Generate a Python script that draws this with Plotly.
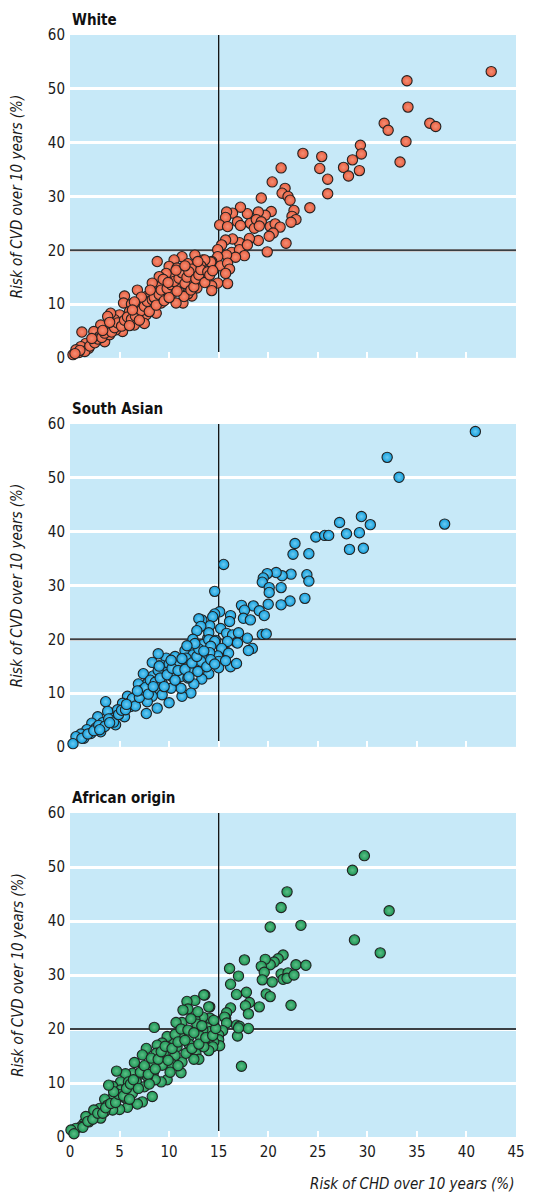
import plotly.graph_objects as go

# ---------------- DATA ----------------
panel_titles = ["White", "South Asian", "African origin"]
y_ticks = [0, 10, 20, 30, 40, 50, 60]
x_ticks = [0, 5, 10, 15, 20, 25, 30, 35, 40, 45]

white_pts = [
    (42.5,53.2),(34.0,51.5),(34.1,46.6),(31.7,43.6),(32.1,42.3),(36.3,43.6),(36.9,43.0),(33.9,40.2),
    (33.3,36.4),(29.3,39.5),(29.4,37.9),(28.5,36.8),(27.6,35.4),(29.2,34.8),(28.1,33.8),(23.5,38.0),
    (25.4,37.4),(25.2,35.2),(26.0,33.2),(26.0,30.5),(21.3,35.3),(20.4,32.7),(21.7,31.5),(21.4,30.6),
    (22.0,30.0),(22.2,29.3),(19.3,29.7),(24.2,27.9),(22.6,27.4),(22.4,26.3),(22.8,25.7),(22.3,25.2),
    (21.8,21.3),(19.9,19.7),
    (20.3,27.2),(19.7,26.5),(19.0,27.1),(17.9,26.8),(17.2,28.0),(16.4,26.9),(15.8,27.1),(15.7,26.1),
    (15.1,24.7),(15.9,24.4),(16.9,25.3),(17.2,24.6),(18.2,25.0),(18.6,24.1),(18.8,25.7),(19.3,25.3),
    (19.1,24.5),(20.2,24.4),(20.7,24.9),(21.2,24.3),(20.5,23.2),(20.1,22.6),(19.0,21.8),(18.1,22.2),
    (17.1,21.4),(16.4,22.1),(15.7,21.9),(15.3,21.0),(14.9,20.1),(16.3,19.6),(17.1,20.1),(17.9,21.0),
    (17.6,19.0),(16.7,18.7),(15.8,19.1),(14.9,18.8),(14.3,17.9),(13.4,18.2),(15.2,17.1),(15.9,17.6),
    (16.1,16.5),(15.7,15.7),(15.9,13.8),(14.9,13.9),(14.3,13.4),(14.3,12.5),
    (14.2,17.8),(13.6,18.2),(13.2,17.1),(12.6,19.1),(12.8,15.9),(12.4,14.0),(13.8,15.2),(13.4,14.5),
    (12.8,13.0),(12.3,11.5),(11.9,11.9),(11.4,10.2),(11.3,18.8),(10.5,18.2),(10.0,17.0),(10.8,16.7),
    (11.9,17.5),(12.3,16.5),(12.0,14.2),(11.3,14.5),(11.0,13.0),(11.5,11.4),(10.7,10.2),(10.3,12.0),
    (10.3,15.0),(9.7,15.7),(9.0,15.1),(8.8,17.9),(9.7,13.9),(9.2,13.3),(8.3,13.9),(8.5,12.0),
    (9.7,11.4),(9.2,10.2),(8.7,8.3),(8.0,9.5),(7.7,11.4),(7.7,8.0),(6.8,12.6),(7.3,10.2),
    (7.5,6.4),(6.8,8.3),(6.5,6.1),(5.5,11.5),(5.4,10.2),(6.2,10.0),(6.0,8.6),(5.6,6.4),
    (5.0,8.0),(4.5,7.1),(4.1,8.3),(3.8,7.7),(5.3,4.9),(4.6,5.2),(3.8,5.8),(3.1,6.1),
    (2.4,4.9),(1.2,4.8),(3.0,4.0),(2.3,3.3),(1.6,2.7),(1.1,2.1),(0.6,1.5),(0.3,0.6),
    (3.5,3.0),(1.9,1.8),(0.9,1.0),(4.0,4.3),
    (1.5,1.2),(2.0,2.2),(2.5,2.8),(2.8,3.5),(3.2,3.8),(3.5,4.6),(4.2,4.8),(4.5,5.6),
    (4.8,6.5),(5.2,5.9),(5.5,7.0),(5.8,7.6),(6.2,7.2),(6.0,6.0),(6.6,7.8),(6.9,9.1),
    (7.2,8.8),(7.5,9.6),(7.0,7.0),(7.8,10.5),(8.0,8.6),(8.3,10.8),(8.5,11.2),(8.7,9.8),
    (9.0,11.8),(9.2,12.6),(9.5,10.6),(9.8,12.9),(10.0,11.2),(10.2,13.6),(10.5,14.2),(10.8,12.4),
    (11.0,14.8),(11.3,15.8),(11.6,13.8),(11.8,15.0),(12.0,16.0),(12.2,12.6),(12.5,13.2),(12.7,14.7),
    (13.0,15.4),(13.2,16.4),(13.6,14.0),(13.9,16.0),(14.1,15.4),(14.4,16.2),(9.4,14.6),(10.7,16.3),
    (11.6,17.1),(8.1,12.6),(7.2,11.3),(6.5,10.4),(4.0,6.6),(3.3,5.1),(2.2,3.6),(1.0,1.4),
    (0.5,0.8),(6.3,8.9),(9.9,14.0),(12.9,17.9),
]

south_asian_pts = [
    (40.9,58.6),(32.0,53.8),(33.2,50.1),(37.8,41.4),(29.4,42.8),(30.3,41.3),(27.2,41.7),(27.9,39.6),
    (29.2,39.8),(28.2,36.7),(29.6,36.9),(24.8,39.0),(25.7,39.3),(26.1,39.3),(22.7,37.8),(22.5,35.8),
    (24.1,35.9),(15.5,33.9),(14.6,28.9),(23.9,32.0),(24.1,30.8),(22.3,32.1),(21.4,31.8),(20.8,32.4),
    (19.9,32.2),(19.5,31.4),(19.4,30.6),(20.1,29.6),(20.1,28.7),(21.3,29.6),(23.7,27.6),(22.2,27.1),
    (21.3,26.4),(20.0,26.5),(17.3,26.3),(18.5,26.2),(19.1,25.3),(19.6,24.4),(17.6,25.4),(17.5,23.9),
    (18.2,23.6),(16.2,24.4),(16.1,23.3),(15.1,25.1),(14.6,24.7),(14.4,24.2),(15.2,22.0),(14.1,22.5),
    (13.3,23.6),(19.4,20.9),(19.8,21.0),(15.8,21.1),(16.4,20.8),(17.0,21.2),(17.9,20.2),(18.4,18.3),
    (18.0,17.9),(16.8,19.4),(15.9,19.6),(15.3,18.1),(15.9,17.5),(14.7,19.8),(13.9,20.2),(14.1,18.6),
    (14.9,16.8),
    (13.0,23.8),(13.2,22.4),(12.8,21.6),(14.0,21.2),(12.4,20.0),(13.4,19.0),(14.0,19.9),(14.6,19.6),
    (16.9,19.3),(15.3,18.3),(16.0,17.4),(14.9,16.9),(15.0,15.9),(15.0,14.7),(16.2,14.9),(16.8,15.5),
    (15.7,16.0),(14.2,18.7),(14.1,17.5),(13.7,16.4),(13.2,15.9),(14.0,13.6),(13.3,12.6),(12.5,11.7),
    (12.2,10.0),(11.3,9.4),(10.0,8.2),(11.6,17.9),(12.4,18.5),(12.4,17.1),(11.7,16.5),(11.0,15.6),
    (12.1,14.3),(12.9,14.0),(11.2,13.1),(11.9,12.8),(10.7,11.5),(11.2,10.9),(10.3,13.1),(10.6,16.8),
    (9.7,16.5),(8.9,17.3),(8.3,15.7),(9.2,15.2),(10.0,15.4),(10.8,15.2),(9.7,13.8),(8.8,13.1),
    (9.3,11.8),(10.2,10.9),(7.4,13.6),(8.4,13.2),(7.8,11.8),(8.7,10.6),(9.3,9.7),(8.3,9.4),
    (7.8,8.4),(8.8,7.2),(6.9,11.7),(7.1,10.0),(6.5,8.7),(7.7,6.2),(5.8,9.4),(6.1,7.5),
    (5.3,8.1),(3.6,8.4),(4.8,6.9),(5.5,5.6),(3.8,6.6),(4.3,5.3),(4.6,4.1),(2.8,5.6),
    (3.3,4.5),(2.2,4.4),(2.6,3.5),(3.1,2.8),(1.7,3.2),(1.1,2.4),(0.6,1.9),(0.3,0.6),
    (1.4,1.6),(2.1,2.5),
    (1.2,1.6),(1.8,2.4),(2.4,3.0),(2.9,4.0),(3.5,3.8),(3.9,5.2),(4.4,4.6),(4.9,6.0),
    (5.2,6.8),(5.6,6.9),(6.0,8.2),(6.3,9.0),(6.6,7.6),(7.0,9.2),(7.3,10.6),(7.6,11.0),
    (7.9,9.8),(8.1,12.4),(8.6,12.0),(8.9,14.2),(9.1,12.8),(9.5,11.2),(9.8,13.4),(10.3,14.6),
    (10.6,12.4),(10.9,14.2),(11.3,16.4),(11.6,14.4),(12.0,13.0),(12.3,15.6),(12.8,16.8),(13.0,18.2),
    (13.5,17.8),(13.8,14.9),(14.2,16.2),(14.6,15.4),(12.6,19.2),(11.8,18.8),(10.2,16.1),(9.0,15.0),
    (6.8,10.4),(5.7,7.9),(4.0,4.5),(3.0,3.2),(8.4,11.2),
]

african_pts = [
    (29.7,52.1),(28.5,49.4),(32.2,41.9),(28.7,36.5),(31.3,34.1),(21.9,45.4),(21.3,42.5),(20.2,38.9),
    (23.3,39.2),(21.5,33.7),(21.0,33.0),(20.6,32.4),(20.2,31.9),(19.7,32.9),(19.3,31.6),(19.6,30.5),
    (19.4,29.1),(20.4,28.7),(17.6,32.8),(16.1,31.2),(17.0,29.8),(16.2,28.3),(22.8,31.9),(23.8,31.8),
    (21.3,30.2),(22.0,30.4),(21.5,29.2),(21.9,29.4),(22.6,30.0),(22.3,24.4),(17.8,26.8),(16.8,26.4),
    (19.8,26.5),(20.2,26.0),(18.1,24.9),(17.7,24.3),(18.0,22.8),(19.1,24.1),(16.2,23.9),(15.8,23.0),
    (15.7,22.0),(14.2,21.9),(14.0,20.6),(13.6,26.3),(14.1,24.1),(16.8,20.7),(17.1,20.5),(18.0,20.1),
    (16.9,18.7),(17.3,13.1),
    (15.6,22.2),(15.8,21.1),(17.0,20.2),(15.4,19.7),(15.0,18.9),(15.0,18.0),(15.1,16.9),(14.5,17.6),
    (14.4,16.7),(14.0,16.0),(13.5,16.7),(14.1,19.5),(14.1,22.0),(13.4,22.2),(12.6,21.8),(12.8,20.9),
    (13.4,19.8),(13.1,18.7),(14.0,24.1),(13.5,26.3),(12.6,25.3),(11.8,25.1),(11.9,23.7),(11.4,23.5),
    (11.3,21.2),(10.7,21.2),(8.5,20.3),(11.3,19.2),(12.0,18.5),(12.0,17.2),(12.7,15.5),(13.0,14.4),
    (12.5,14.4),(11.2,11.9),(11.3,13.9),(11.7,15.5),(10.8,16.7),(10.5,18.0),(9.8,18.6),(9.3,17.4),
    (8.8,17.0),(7.7,16.4),(7.3,15.2),(8.7,15.5),(9.5,15.2),(10.6,15.1),(10.2,13.6),(10.9,13.2),
    (9.3,13.3),(8.3,13.6),(6.5,13.8),(7.4,12.7),(8.4,11.8),(9.8,10.6),(9.2,10.2),(8.6,10.6),
    (7.8,11.2),(6.9,11.5),(6.3,11.8),(5.6,11.7),(4.7,12.2),(5.1,10.2),(5.9,10.2),(6.7,10.2),
    (7.5,9.3),(8.3,7.5),(7.3,6.5),(6.8,6.1),(5.8,5.5),(5.0,5.1),(4.3,9.4),(5.1,8.7),
    (6.0,8.7),(6.3,8.1),(5.6,7.2),(4.8,7.5),(4.3,7.2),(3.5,7.0),(3.8,5.9),(4.3,5.0),
    (3.5,4.7),(3.0,5.3),(2.6,4.1),(3.1,3.5),(2.1,3.8),(1.9,2.8),(1.4,2.5),(1.1,1.9),
    (0.6,1.6),(0.1,1.3),(0.4,0.6),(1.6,3.8),(2.4,5.0),
    (1.3,1.8),(1.8,2.9),(2.3,3.3),(2.8,4.4),(3.3,4.4),(3.6,5.4),(4.1,6.2),(4.6,6.4),
    (4.9,7.9),(5.4,7.6),(5.7,9.0),(6.1,9.8),(6.4,10.6),(6.9,9.0),(7.1,12.0),(7.5,13.2),
    (7.9,11.6),(8.2,14.6),(8.6,12.6),(8.9,14.4),(9.2,15.8),(9.6,16.8),(9.9,14.2),(10.3,16.4),
    (10.6,19.0),(10.9,17.6),(11.2,20.0),(11.6,17.9),(11.9,19.8),(12.3,16.4),(12.5,19.3),(13.0,17.2),
    (13.3,20.6),(13.7,18.4),(14.4,18.8),(14.7,20.1),(14.5,21.6),(12.9,23.2),(12.2,21.9),(10.1,12.0),
    (8.0,9.8),(6.0,7.0),(4.4,8.4),(3.9,9.6),
]

chd_threshold = 15
cvd_threshold = 20

# ---------------- STYLE ----------------
fills = ["#E95F40", "#139FDD", "#1C9655"]
highlights = ["#F48E74", "#6CCBF2", "#5CBF86"]
bg = "#C7E9F8"
font_family = "Liberation Sans Narrow, DejaVu Sans Condensed, Arial Narrow, sans-serif"

domains = [(0.707, 1.0), (0.354, 0.647), (0.0, 0.294)]
groups = [white_pts, south_asian_pts, african_pts]

fig = go.Figure()
for i, pts in enumerate(groups):
    n = "" if i == 0 else str(i + 1)
    fig.add_trace(go.Scatter(
        x=[p[0] for p in pts], y=[p[1] for p in pts],
        mode="markers", xaxis="x" + n, yaxis="y" + n,
        cliponaxis=False, showlegend=False, hoverinfo="x+y",
        marker=dict(size=10.3, color=fills[i],
                    gradient=dict(type="radial", color=highlights[i]),
                    line=dict(color="#222222", width=1.1)),
    ))

layout = dict(
    width=536, height=1193,
    margin=dict(l=70, r=20, t=35, b=56),
    paper_bgcolor="white", plot_bgcolor=bg,
    font=dict(family=font_family, size=15, color="#1a1a1a"),
    showlegend=False,
)
shapes = []
annotations = []
for i in range(3):
    n = "" if i == 0 else str(i + 1)
    layout["xaxis" + n] = dict(
        domain=[0, 1], anchor="y" + n, range=[0, 45],
        tickvals=x_ticks, showticklabels=(i == 2),
        ticks="inside", ticklen=6, tickwidth=2, tickcolor="white",
        showgrid=False, zeroline=False, showline=False,
        ticklabelstandoff=4, tickfont=dict(size=15),
    )
    layout["yaxis" + n] = dict(
        domain=list(domains[i]), anchor="x" + n, range=[0, 60],
        tickvals=y_ticks, ticks="", showgrid=True, gridcolor="white", gridwidth=2.5,
        zeroline=False, showline=False, ticklabelstandoff=4, tickfont=dict(size=15),
    )
    xr, yr = "x" + n, "y" + n
    shapes.append(dict(type="line", xref=xr, yref=yr, x0=chd_threshold, x1=chd_threshold,
                       y0=0, y1=60, line=dict(color="#111111", width=1.3), layer="between"))
    shapes.append(dict(type="line", xref=xr, yref=yr, x0=0, x1=45,
                       y0=cvd_threshold, y1=cvd_threshold,
                       line=dict(color="#3a3f44", width=1.8), layer="between"))
    annotations.append(dict(text="<b>" + panel_titles[i] + "</b>", xref=xr + " domain", yref=yr + " domain",
                            x=0, y=1, xanchor="left", yanchor="bottom", yshift=4,
                            showarrow=False, font=dict(size=15, color="#111111")))
    annotations.append(dict(text="<i>Risk of CVD over 10 years (%)</i>", xref=xr + " domain", yref=yr + " domain",
                            x=-0.117, y=0.5, xanchor="center", yanchor="middle", textangle=-90,
                            showarrow=False, font=dict(size=15, color="#1a1a1a")))

annotations.append(dict(text="<i>Risk of CHD over 10 years (%)</i>", xref="x3 domain", yref="paper",
                        x=1.0, y=0, xanchor="right", yanchor="top", yshift=-36,
                        showarrow=False, font=dict(size=15, color="#1a1a1a")))
layout["shapes"] = shapes
layout["annotations"] = annotations
fig.update_layout(**layout)

fig.write_html("out.html", config={"displayModeBar": False},
               post_script="document.body.style.margin='0';document.body.style.overflow='hidden';")
